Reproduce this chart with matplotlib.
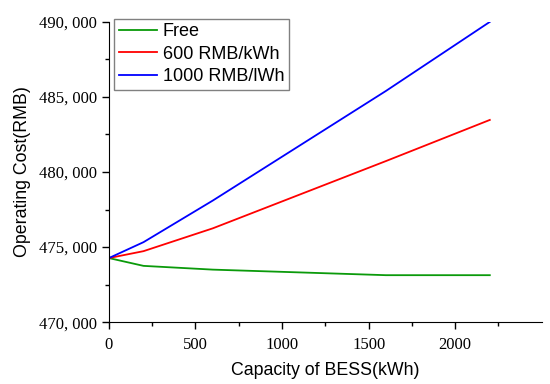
import matplotlib
matplotlib.use("Agg")
import matplotlib.pyplot as plt
from matplotlib.ticker import FuncFormatter, MultipleLocator, FixedLocator

# capacity of BESS (kWh) and operating cost (RMB) per scenario
capacity = [0, 200, 600, 1600, 2200]
cost_free = [474270, 473750, 473500, 473130, 473130]
cost_600 = [474270, 474730, 476250, 480730, 483470]
cost_1000 = [474270, 475330, 478100, 485400, 490000]
labels = ["Free", "600 RMB/kWh", "1000 RMB/lWh"]
xticks = [0, 500, 1000, 1500, 2000]

fig = plt.figure(figsize=(5.5, 3.84), dpi=100)
ax = fig.add_axes([0.198, 0.161, 0.787, 0.782])

ax.plot(capacity, cost_free, color="#0a9a0a", lw=1.3, label=labels[0])
ax.plot(capacity, cost_600, color="#ff0000", lw=1.3, label=labels[1])
ax.plot(capacity, cost_1000, color="#0000ff", lw=1.3, label=labels[2])

ax.set_xlim(0, 2500)
ax.set_ylim(470000, 490000)
ax.xaxis.set_major_locator(FixedLocator(xticks))
ax.xaxis.set_minor_locator(FixedLocator([x + 250 for x in xticks]))
ax.yaxis.set_major_locator(MultipleLocator(5000))
ax.yaxis.set_minor_locator(MultipleLocator(2500))
ax.yaxis.set_major_formatter(FuncFormatter(lambda v, p: "{:,}".format(int(v)).replace(",", ", ")))

ax.spines["top"].set_visible(False)
ax.spines["right"].set_visible(False)
ax.tick_params(which="major", direction="out", length=5, width=1, labelsize=12)
ax.tick_params(which="minor", direction="out", length=3, width=1)
ax.tick_params(axis="x", which="major", pad=6)
for t in ax.get_xticklabels() + ax.get_yticklabels():
    t.set_fontfamily("Liberation Serif")

ax.set_xlabel("Capacity of BESS(kWh)", fontsize=12.8, family="Liberation Sans", labelpad=6)
ax.set_ylabel("Operating Cost(RMB)", fontsize=12.8, family="Liberation Sans", labelpad=6)

leg = ax.legend(loc="upper left", bbox_to_anchor=(0.012, 1.01), fancybox=False,
                edgecolor="#808080", framealpha=1, handlelength=2.1,
                prop={"family": "Liberation Sans", "size": 13},
                borderpad=0.25, labelspacing=0.3, handletextpad=0.35,
                borderaxespad=0)
leg.get_frame().set_linewidth(1)

fig.savefig("out.png", dpi=100)
